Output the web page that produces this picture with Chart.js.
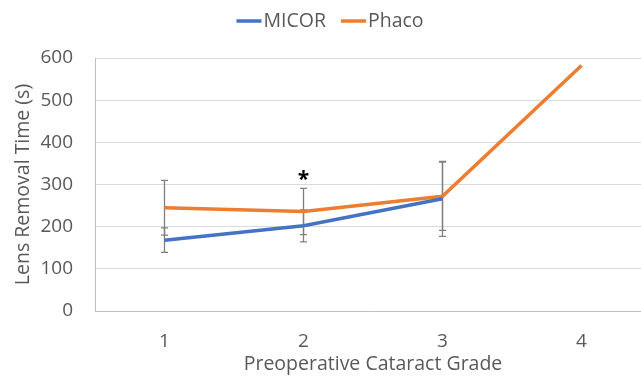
<!DOCTYPE html>
<html><head><meta charset="utf-8">
<script src="https://cdn.jsdelivr.net/npm/chart.js@4/dist/chart.umd.min.js"></script>
<style>
html,body{margin:0;padding:0;background:#fff;overflow:hidden;width:641px;height:384px;}
#wrap{width:660px;height:384px;position:relative;}
</style></head>
<body><div id="wrap"><canvas id="c" width="660" height="384"></canvas></div>
<script>
const grades = ['1', '2', '3', '4'];
const micor = [168, 202, 266, null];
const phaco = [245, 236, 272, 582];
const micorErr = [29, 38, 89, null];
const phacoErr = [65, 55, 81, null];
const sigMarks = ['', '*', '', ''];
const yTicks = [0, 100, 200, 300, 400, 500, 600];

const FONT = '"Open Sans", "Liberation Sans", sans-serif';
const TXT = '#595959';

const errorBars = {
  id: 'errorBars',
  beforeDatasetsDraw(chart) {
    const ctx = chart.ctx, x = chart.scales.x, y = chart.scales.y;
    ctx.save();
    ctx.strokeStyle = '#7f7f7f';
    ctx.lineWidth = 1.3;
    chart.data.datasets.forEach(ds => {
      const errs = ds.errors || [];
      ds.data.forEach((v, i) => {
        if (v == null || errs[i] == null) return;
        const px = x.getPixelForValue(i);
        const top = y.getPixelForValue(v + errs[i]);
        const bot = y.getPixelForValue(v - errs[i]);
        ctx.beginPath();
        ctx.moveTo(px, top); ctx.lineTo(px, bot);
        ctx.moveTo(px - 3.5, top); ctx.lineTo(px + 3.5, top);
        ctx.moveTo(px - 3.5, bot); ctx.lineTo(px + 3.5, bot);
        ctx.stroke();
      });
    });
    ctx.restore();
  },
  afterDatasetsDraw(chart) {
    const ctx = chart.ctx, x = chart.scales.x, y = chart.scales.y;
    ctx.save();
    ctx.fillStyle = '#000';
    ctx.font = 'bold 21px ' + FONT;
    ctx.textAlign = 'center';
    ctx.textBaseline = 'middle';
    sigMarks.forEach((m, i) => {
      if (!m) return;
      let maxTop = -Infinity;
      chart.data.datasets.forEach(ds => {
        const v = ds.data[i], e = (ds.errors || [])[i];
        if (v != null) maxTop = Math.max(maxTop, v + (e || 0));
      });
      const py = y.getPixelForValue(maxTop) - 8;
      ctx.fillText(m, x.getPixelForValue(i), py);
    });
    ctx.restore();
  }
};

const customLegend = {
  id: 'customLegend',
  afterDraw(chart) {
    const ctx = chart.ctx;
    ctx.save();
    ctx.font = '19.5px ' + FONT;
    ctx.textBaseline = 'middle';
    const items = chart.data.datasets.map(d => ({label: d.label, color: d.borderColor}));
    const lineW = 25, gap = 2, itemGap = 15;
    let total = 0;
    items.forEach((it, k) => { total += lineW + gap + ctx.measureText(it.label).width + (k ? itemGap : 0); });
    let cx = 330 - total / 2;
    const cy = 21;
    items.forEach((it, k) => {
      if (k) cx += itemGap;
      ctx.strokeStyle = it.color; ctx.lineWidth = 3.5;
      ctx.beginPath(); ctx.moveTo(cx, cy); ctx.lineTo(cx + lineW, cy); ctx.stroke();
      cx += lineW + gap;
      ctx.fillStyle = TXT;
      ctx.fillText(it.label, cx, cy);
      cx += ctx.measureText(it.label).width;
    });
    ctx.restore();
  }
};

new Chart(document.getElementById('c'), {
  type: 'line',
  data: {
    labels: grades,
    datasets: [
      {label: 'MICOR', data: micor, errors: micorErr, borderColor: '#4472c4', backgroundColor: '#4472c4', borderWidth: 3.5, pointRadius: 0, tension: 0, spanGaps: false},
      {label: 'Phaco', data: phaco, errors: phacoErr, borderColor: '#ed7d31', backgroundColor: '#ed7d31', borderWidth: 3.5, pointRadius: 0, tension: 0}
    ]
  },
  options: {
    responsive: false,
    animation: false,
    layout: {padding: {top: 58, right: 9, left: 0, bottom: 0}},
    plugins: {legend: {display: false}, tooltip: {enabled: false}},
    scales: {
      x: {
        type: 'category',
        offset: true,
        grid: {display: false, drawTicks: false},
        border: {display: true, color: '#bfbfbf', width: 1},
        ticks: {color: TXT, font: {family: FONT, size: 19}, padding: 19},
        title: {display: true, text: 'Preoperative Cataract Grade', color: TXT, font: {family: FONT, size: 19.5}, padding: {top: 4, bottom: 8}},
        afterFit(s) { s.height = 73; }
      },
      y: {
        min: 0, max: 600,
        afterBuildTicks(s) { s.ticks = yTicks.map(v => ({value: v})); },
        grid: {color: '#d9d9d9', drawTicks: false, lineWidth: 1},
        border: {display: true, color: '#bfbfbf', width: 1},
        ticks: {color: TXT, font: {family: FONT, size: 19}, padding: 22},
        title: {display: true, text: 'Lens Removal Time (s)', color: TXT, font: {family: FONT, size: 19.5}, padding: {top: 12, bottom: 0}},
        afterFit(s) { s.width = 95; }
      }
    }
  },
  plugins: [errorBars, customLegend]
});
</script></body></html>
